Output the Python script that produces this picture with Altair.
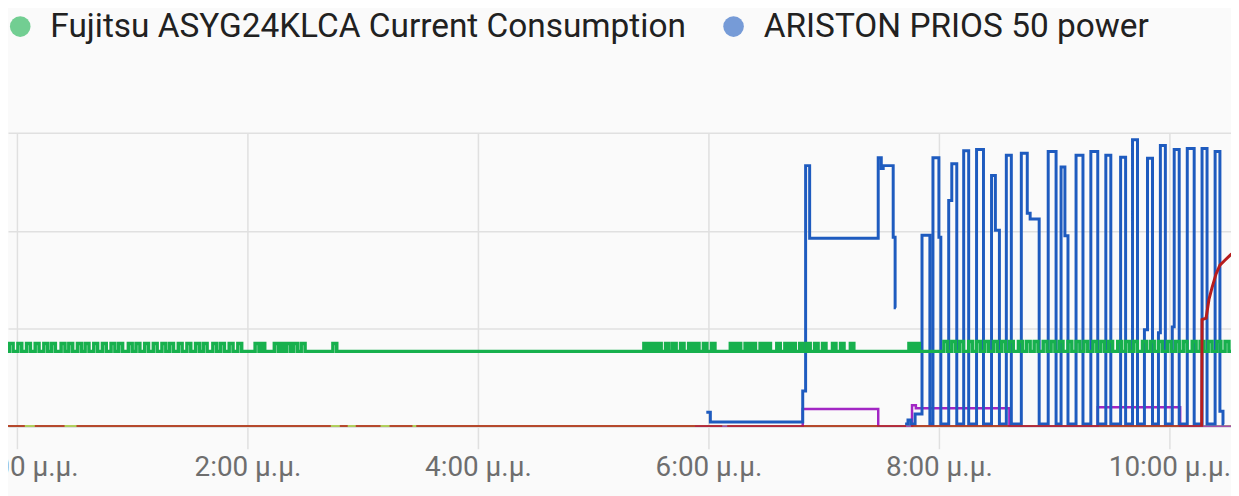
import json
import altair as alt
import pandas as pd

# ---------------- data (time = minutes after 12:00 μ.μ., value = W) ----------------
LEGEND_NAMES = ["Fujitsu ASYG24KLCA Current Consumption", "ARISTON PRIOS 50 power"]
OTHER_NAMES = ["Heater power", "Boiler power", "Dryer power"]

TICK_MIN = [0, 120, 240, 360, 480, 600]
TICK_LABELS = ["12:00 μ.μ.", "2:00 μ.μ.", "4:00 μ.μ.", "6:00 μ.μ.", "8:00 μ.μ.", "10:00 μ.μ."]
Y_GRID = [0, 1000, 2000, 3000]

# Fujitsu: idle level with short pulses
FUJITSU_BASE = 770
FUJITSU_START = -10
FUJITSU_END = 640
FUJITSU_ON_A = [-8, -4, 0.5, 5, 9.5, 14, 18, 23, 27, 31.5, 35.5, 40, 44.5, 49, 53, 58, 62, 66.5, 71,
                75.5, 79.5, 84, 88.5, 93, 97, 102, 106, 110.5, 115, 124, 127.5, 134, 137.5, 140.5,
                144, 148, 164.5]
FUJITSU_OFF_A = [-6, -2, 2.5, 7, 11.5, 16, 20, 25, 29, 33.5, 37.5, 42, 46.5, 51, 55, 60, 64, 68.5, 73,
                 77.5, 81.5, 86, 90.5, 95, 99, 104, 108, 112.5, 117, 126, 129, 136, 139, 142.5,
                 146, 150, 166.5]
FUJITSU_PEAK_A = 850
FUJITSU_ON_C = [326.4, 330, 333.6, 337.7, 341.4, 345.5, 349.7, 353.3, 357.4, 361.6, 371.4, 375, 379.1,
                382.7, 386.9, 390.5, 395.6, 399.8, 403.4, 407.5, 411.2, 415.3, 419.4, 424.6, 428.8,
                433.9, 464.4, 468]
FUJITSU_OFF_C = [328.2, 331.8, 335.4, 339.5, 343.2, 347.3, 351.5, 355.1, 359.2, 363.4, 373.2, 376.8,
                 380.9, 384.5, 388.7, 392.3, 397.4, 401.6, 405.2, 409.3, 413, 417.1, 421.2, 426.4,
                 430.6, 435.7, 466.2, 469.8]
FUJITSU_PEAK_C = 850
FUJITSU_ON_D = [482.6, 486.7, 490.8, 495.5, 499.6, 503.8, 508.4, 512.6, 516.7, 521.4, 525.5, 529.6,
                534.3, 538.4, 542.6, 547.2, 551.4, 555.5, 560.2, 564.3, 568.4, 573.1, 577.2, 581.3,
                586, 590.1, 594.3, 598.9, 603.1, 607.2, 611.9, 616, 620.2, 624.8, 629]
FUJITSU_OFF_D = [484.6, 488.7, 492.8, 497.5, 501.6, 505.8, 510.4, 514.6, 518.7, 523.4, 527.5, 531.6,
                 536.3, 540.4, 544.6, 549.2, 553.4, 557.5, 562.2, 566.3, 570.4, 575.1, 579.2, 583.3,
                 588, 592.1, 596.3, 600.9, 605.1, 609.2, 613.9, 618, 622.2, 626.8, 631]
FUJITSU_PEAK_D = 870

# ARISTON: two stretches of data
ARISTON_SEG1_T = [358.9, 361.0, 409.1, 410.6, 412.7, 448.4, 450.0, 451.0, 456.2, 457.2, 457.6]
ARISTON_SEG1_W = [150, 50, 365, 2665, 1925, 2745, 2635, 2665, 1935, 1215, 1215]
ARISTON_SEG2_T = [462.4, 463.9, 465.5, 467.6, 471.2, 475.3, 476.9, 480.0, 481.0, 485.1, 486.7, 489.3,
                  492.9, 495.5, 499.6, 503.2, 507.4, 509.4, 511.5, 515.1, 517.7, 522.9, 526.0, 527.5,
                  532.2, 536.9, 541.0, 543.6, 545.6, 547.2, 551.4, 555.0, 559.1, 562.7, 566.9, 569.5,
                  574.6, 577.2, 580.8, 583.4, 587.0, 588.6, 591.2, 594.3, 595.3, 597.9, 601.5, 602.5,
                  605.1, 609.3, 612.9, 617.0, 619.6, 623.8, 626.3, 627.9, 628.5]
ARISTON_SEG2_W = [30, 70, 30, 130, 1955, 30, 2745, 1935, 30, 2310, 2685, 30,
                  2817, 30, 2830, 30, 2565, 2005, 30, 2770, 30, 2790, 2180, 2120,
                  30, 2810, 30, 2650, 1950, 30, 2770, 30, 2810, 30, 2770, 30,
                  2750, 30, 2930, 30, 990, 2740, 30, 960, 2870, 30, 1020, 2830,
                  30, 2840, 30, 2840, 30, 2810, 160, 30, 30]

# purple series
PURPLE_T = [353, 409.1, 448.4, 466.0, 468.0, 516.7, 562.7, 605.6, 640]
PURPLE_W = [0, 182, 0, 220, 190, 0, 200, 0, 0]

# red series: zero stretches with gaps, then a rise
RED_ZERO_START = [-10, 9.3, 31.0, 168.1, 176.4, 194.0, 207.9, 369.8, 465.5]
RED_ZERO_END = [4.1, 24.8, 163.4, 172.2, 189.3, 205.9, 367.2, 462.9, 616.8]
RED_RISE_T = [617.0, 619.1, 620.6, 622.2, 624.3, 626.3, 628.9, 632.1, 640]
RED_RISE_W = [1095, 1110, 1300, 1420, 1560, 1650, 1700, 1760, 1800]

# yellow-green series: flat zero
LIME_T = [-10, 640]
LIME_W = [0, 0]

# ---------------- table ----------------
rows = []


def add(series, seg, ts, ws):
    for t, w in zip(ts, ws):
        rows.append({"series": series, "seg": f"{series}-{seg}", "t": t, "w": w})


fu_t, fu_w = [FUJITSU_START], [FUJITSU_BASE]
for ons, offs, peak in [(FUJITSU_ON_A, FUJITSU_OFF_A, FUJITSU_PEAK_A),
                        (FUJITSU_ON_C, FUJITSU_OFF_C, FUJITSU_PEAK_C),
                        (FUJITSU_ON_D, FUJITSU_OFF_D, FUJITSU_PEAK_D)]:
    for a, b in zip(ons, offs):
        fu_t += [a, b]
        fu_w += [peak, FUJITSU_BASE]
fu_t.append(FUJITSU_END)
fu_w.append(FUJITSU_BASE)
add(LEGEND_NAMES[0], 0, fu_t, fu_w)

add(LEGEND_NAMES[1], 1, ARISTON_SEG1_T, ARISTON_SEG1_W)
add(LEGEND_NAMES[1], 2, ARISTON_SEG2_T, ARISTON_SEG2_W)

add(OTHER_NAMES[0], 0, PURPLE_T, PURPLE_W)

for i, (a, b) in enumerate(zip(RED_ZERO_START, RED_ZERO_END)):
    ts, ws = [a, b], [0, 0]
    if i == len(RED_ZERO_START) - 1:
        ts += RED_RISE_T
        ws += RED_RISE_W
    add(OTHER_NAMES[1], i, ts, ws)

add(OTHER_NAMES[2], 0, LIME_T, LIME_W)

df = pd.DataFrame(rows)
legend_df = pd.DataFrame({"series": LEGEND_NAMES, "t": [FUJITSU_START] * 2, "w": [FUJITSU_BASE] * 2})

# ---------------- chart ----------------
GREEN = "#17b04d"
BLUE = "#1e5bbf"
RED = "#b71c1c"
PURPLE = "#a226c4"
LIME = "#9ac02a"
GRID = "#e0e0e0"

X_DOMAIN = [-4.66, 632.07]

label_expr = json.dumps(TICK_LABELS, ensure_ascii=False) + f"[round(datum.value / {TICK_MIN[1]})]"

x_enc = alt.X(
    "t:Q",
    scale=alt.Scale(domain=X_DOMAIN, nice=False, zero=False),
    axis=alt.Axis(
        values=TICK_MIN, labelExpr=label_expr, title=None, grid=True,
        gridColor=GRID, gridWidth=1.5, ticks=True, tickSize=22, tickColor=GRID,
        tickWidth=1.5, domain=False, labelFont="Roboto", labelFontSize=28,
        labelColor="#6e6e6e", labelPadding=5, labelFlush=False, labelOverlap=False,
    ),
)
y_enc = alt.Y(
    "w:Q",
    scale=alt.Scale(domain=[Y_GRID[0], Y_GRID[-1]], nice=False),
    axis=alt.Axis(values=Y_GRID, labels=False, ticks=False, domain=False, title=None,
                  grid=True, gridColor=GRID, gridWidth=1.5),
)

base = alt.Chart(df)


def line(name, color, width, interp):
    return base.transform_filter(alt.datum.series == name).mark_line(
        color=color, strokeWidth=width, interpolate=interp, clip=True
    ).encode(x=x_enc, y=y_enc, detail="seg:N")


legend_layer = alt.Chart(legend_df).mark_point(filled=True, opacity=0.6, size=430, clip=True).encode(
    x=x_enc,
    y=y_enc,
    color=alt.Color(
        "series:N",
        scale=alt.Scale(domain=LEGEND_NAMES, range=[GREEN, BLUE]),
        legend=alt.Legend(
            orient="none", legendX=-4.5, legendY=-124, direction="horizontal", title=None,
            symbolType="circle", symbolSize=430, symbolStrokeWidth=0, labelFont="Roboto",
            labelFontSize=33.6, labelColor="#212121", labelOffset=13.5, labelLimit=1000,
            columnPadding=31, padding=0, values=LEGEND_NAMES,
        ),
    ),
)

chart = alt.layer(
    line(OTHER_NAMES[2], LIME, 3, "linear"),
    line(OTHER_NAMES[0], PURPLE, 2.5, "step-after"),
    line(LEGEND_NAMES[1], BLUE, 3, "step-after"),
    line(LEGEND_NAMES[0], GREEN, 3.5, "step-after"),
    line(OTHER_NAMES[1], RED, 3, "linear"),
    legend_layer,
).properties(
    width=1231,
    height=296,
    autosize=alt.AutoSizeParams(type="none"),
    padding={"left": 0, "top": 124, "right": 0, "bottom": 68},
    background="#fafafa",
).configure_view(strokeWidth=0)

chart.save("out.html", embed_options={"renderer": "svg", "actions": False})
